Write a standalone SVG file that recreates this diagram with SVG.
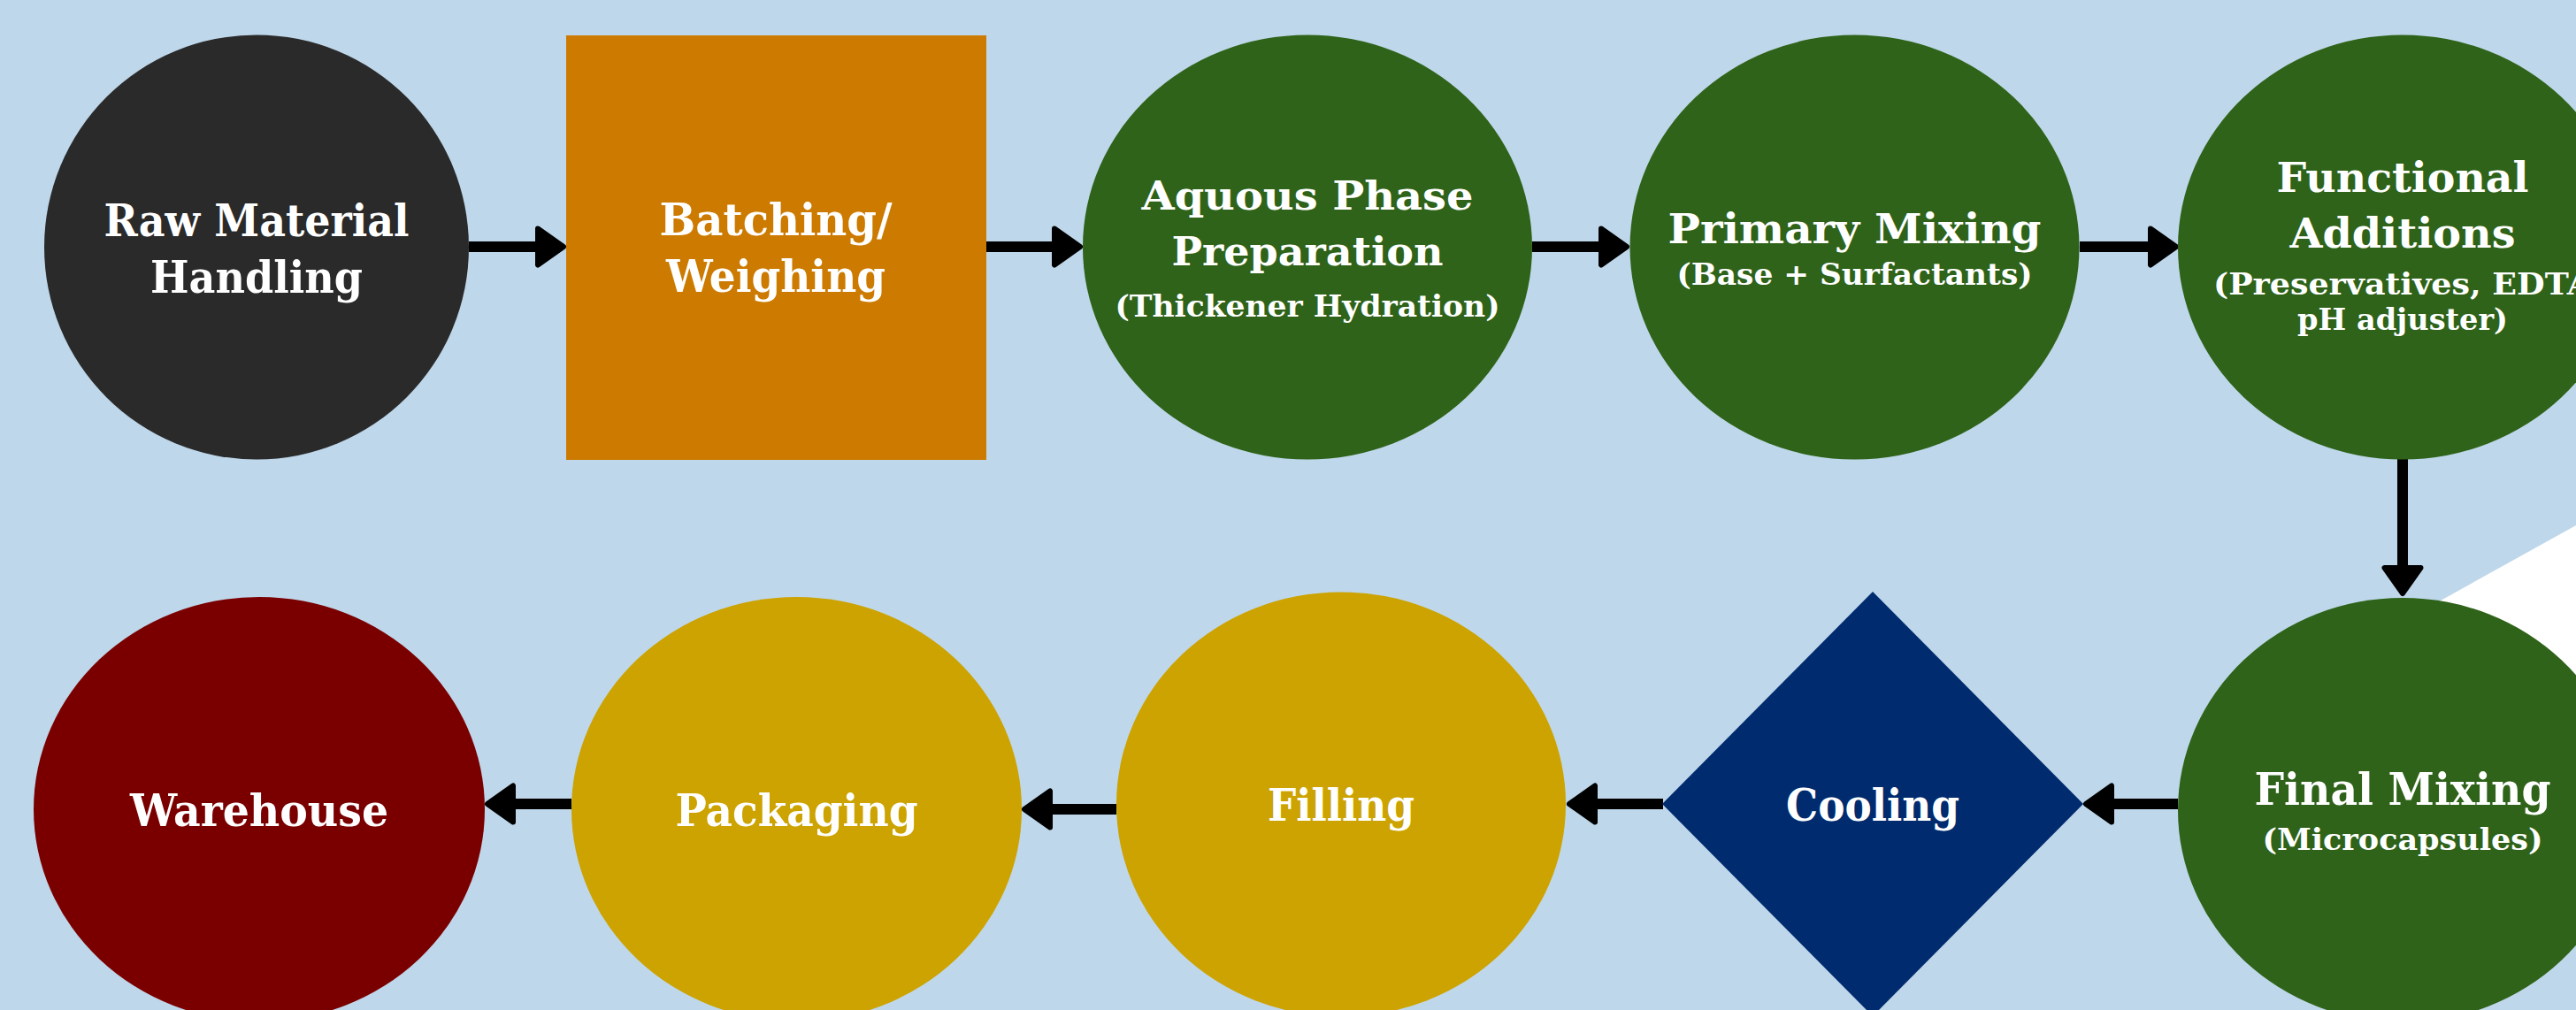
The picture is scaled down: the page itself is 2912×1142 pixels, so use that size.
<svg xmlns="http://www.w3.org/2000/svg" width="2912" height="1142" viewBox="0 0 2912 1142">
  <style>
    .t { font-family: "DejaVu Serif", "Liberation Serif", serif; font-weight: bold; fill: #ffffff; text-anchor: middle; }
    .conn { stroke: #000000; stroke-width: 12; fill: none; marker-end: url(#ah); }
  </style>
  <defs>
    <marker id="ah" markerUnits="userSpaceOnUse" viewBox="0 0 40 52" markerWidth="40" markerHeight="52" refX="4" refY="26" orient="auto">
      <path d="M4,5.5 L33,26 L4,46.5 Z" fill="#000000" stroke="#000000" stroke-width="6" stroke-linejoin="round"/>
    </marker>
  </defs>
  <rect x="0" y="0" width="2912" height="1142" fill="#BFD7EA"/>
  <polygon points="2912,594 2680,723 2912,850" fill="#ffffff"/>

  <g id="connectors">
    <line class="conn" x1="530" y1="279" x2="608" y2="279"/>
    <line class="conn" x1="1115" y1="279" x2="1192" y2="279"/>
    <line class="conn" x1="1732" y1="279" x2="1810" y2="279"/>
    <line class="conn" x1="2351" y1="279" x2="2431" y2="279"/>
    <line class="conn" x1="2716" y1="519" x2="2716" y2="642"/>
    <line class="conn" x1="2462" y1="909" x2="2387" y2="909"/>
    <line class="conn" x1="1880" y1="909" x2="1803" y2="909"/>
    <line class="conn" x1="1262" y1="915" x2="1187" y2="915"/>
    <line class="conn" x1="646" y1="909" x2="580" y2="909"/>
  </g>

  <g id="raw-material-handling">
    <ellipse cx="290" cy="279.5" rx="240" ry="240" fill="#2A2A2A"/>
    <text class="t" x="290" y="267" font-size="50" textLength="345" lengthAdjust="spacingAndGlyphs">Raw Material</text>
    <text class="t" x="290" y="331" font-size="50" textLength="240" lengthAdjust="spacingAndGlyphs">Handling</text>
  </g>

  <g id="batching-weighing">
    <rect x="640" y="40" width="475" height="480" fill="#CC7A00"/>
    <text class="t" x="877" y="266" font-size="50" textLength="263" lengthAdjust="spacingAndGlyphs">Batching/</text>
    <text class="t" x="877" y="330" font-size="50" textLength="248" lengthAdjust="spacingAndGlyphs">Weighing</text>
  </g>

  <g id="aquous-phase-preparation">
    <ellipse cx="1478" cy="279.5" rx="254" ry="240" fill="#2E6319"/>
    <text class="t" x="1478" y="237" font-size="44" textLength="375" lengthAdjust="spacingAndGlyphs">Aquous Phase</text>
    <text class="t" x="1478" y="300" font-size="44" textLength="307" lengthAdjust="spacingAndGlyphs">Preparation</text>
    <text class="t" x="1478" y="358" font-size="34" textLength="435" lengthAdjust="spacingAndGlyphs">(Thickener Hydration)</text>
  </g>

  <g id="primary-mixing">
    <ellipse cx="2096.5" cy="279.5" rx="254" ry="240" fill="#2E6319"/>
    <text class="t" x="2096.5" y="275" font-size="46" textLength="422" lengthAdjust="spacingAndGlyphs">Primary Mixing</text>
    <text class="t" x="2096.5" y="322" font-size="33" textLength="402" lengthAdjust="spacingAndGlyphs">(Base + Surfactants)</text>
  </g>

  <g id="functional-additions">
    <ellipse cx="2716" cy="279.5" rx="254" ry="240" fill="#2E6319"/>
    <text class="t" x="2716" y="217" font-size="47" textLength="285" lengthAdjust="spacingAndGlyphs">Functional</text>
    <text class="t" x="2716" y="280" font-size="47" textLength="255" lengthAdjust="spacingAndGlyphs">Additions</text>
    <text class="t" x="2716" y="333" font-size="34" textLength="428" lengthAdjust="spacingAndGlyphs">(Preservatives, EDTA</text>
    <text class="t" x="2716" y="373" font-size="34" textLength="238" lengthAdjust="spacingAndGlyphs">pH adjuster)</text>
  </g>

  <g id="final-mixing">
    <ellipse cx="2716" cy="916" rx="254" ry="240" fill="#2E6319"/>
    <text class="t" x="2716" y="909.5" font-size="50" textLength="335" lengthAdjust="spacingAndGlyphs">Final Mixing</text>
    <text class="t" x="2716" y="961" font-size="34" textLength="317" lengthAdjust="spacingAndGlyphs">(Microcapsules)</text>
  </g>

  <g id="cooling">
    <polygon points="2117,669 2355,909 2117,1149 1879,909" fill="#002B6E"/>
    <text class="t" x="2117" y="927.5" font-size="50" textLength="196" lengthAdjust="spacingAndGlyphs">Cooling</text>
  </g>

  <g id="filling">
    <ellipse cx="1516" cy="909.5" rx="254" ry="240" fill="#CCA300"/>
    <text class="t" x="1516" y="927.5" font-size="50" textLength="166" lengthAdjust="spacingAndGlyphs">Filling</text>
  </g>

  <g id="packaging">
    <ellipse cx="900.5" cy="915" rx="254.5" ry="240" fill="#CCA300"/>
    <text class="t" x="900.5" y="933.5" font-size="50" textLength="274" lengthAdjust="spacingAndGlyphs">Packaging</text>
  </g>

  <g id="warehouse">
    <ellipse cx="293" cy="915" rx="255" ry="240" fill="#7A0000"/>
    <text class="t" x="293" y="933.5" font-size="50" textLength="292" lengthAdjust="spacingAndGlyphs">Warehouse</text>
  </g>
</svg>
